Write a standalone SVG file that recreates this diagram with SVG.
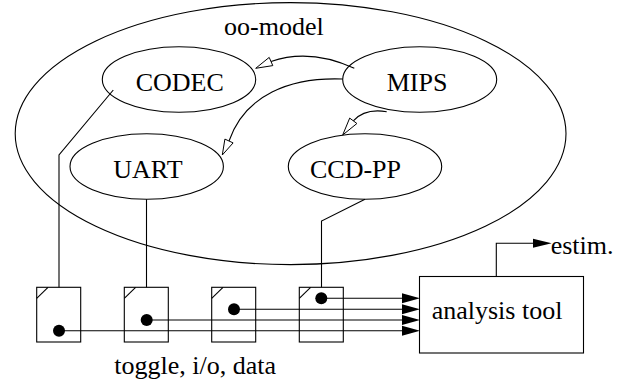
<svg xmlns="http://www.w3.org/2000/svg" width="624" height="381" viewBox="0 0 624 381">
<style>
text{font-family:"Liberation Serif","Times New Roman",serif;font-size:26px;fill:#000}
.o{fill:none;stroke:#000;stroke-width:1.1}
.b{fill:#fff;stroke:#000;stroke-width:1.1}
.l{fill:none;stroke:#000;stroke-width:1.1}
.oh{fill:#fff;stroke:#000;stroke-width:1}
.fh{fill:#000;stroke:none}
</style>
<rect width="624" height="381" fill="#fff"/>
<g id="oo-model">
<ellipse class="o" cx="290.6" cy="133.6" rx="275.4" ry="131"/>
<text x="224" y="35">oo-model</text>
</g>
<g id="codec">
<ellipse class="o" cx="179" cy="79.5" rx="76.7" ry="32.8"/>
<text x="135.7" y="90.7">CODEC</text>
</g>
<g id="mips">
<ellipse class="o" cx="419.7" cy="79.5" rx="77" ry="32.8"/>
<text x="386.7" y="90.7">MIPS</text>
</g>
<g id="uart">
<ellipse class="o" cx="146.7" cy="166.5" rx="76.7" ry="32.8"/>
<text x="113.3" y="178.3">UART</text>
</g>
<g id="ccdpp">
<ellipse class="o" cx="365" cy="166.5" rx="76.7" ry="32.8"/>
<text x="310" y="178.3">CCD-PP</text>
</g>
<g id="box1"><rect class="b" x="36.7" y="287.3" width="44" height="54.7"/><line class="l" x1="36.7" y1="298.3" x2="48" y2="287.3"/></g>
<g id="box2"><rect class="b" x="124.3" y="287.3" width="44" height="54.7"/><line class="l" x1="124.3" y1="298.3" x2="135.6" y2="287.3"/></g>
<g id="box3"><rect class="b" x="211.7" y="287.3" width="44" height="54.7"/><line class="l" x1="211.7" y1="298.3" x2="223" y2="287.3"/></g>
<g id="box4"><rect class="b" x="299.3" y="287.3" width="44" height="54.7"/><line class="l" x1="299.3" y1="298.3" x2="310.6" y2="287.3"/></g>
<g id="analysis">
<rect class="b" x="419.5" y="276.5" width="164" height="76.5"/>
<text x="431.7" y="319">analysis tool</text>
</g>
<g id="estim"><text x="550.7" y="254.3">estim.</text></g>
<g id="label"><text x="114.3" y="374">toggle, i/o, data</text></g>
<g id="connectors">
<path class="l" d="M354.3,68.3 Q310,48 271,61.5"/>
<polygon class="oh" points="255.7,68.3 272.8,65.6 269.2,57.4"/>
<path class="l" d="M342.7,79 C290,77 245,95 229,141"/>
<polygon class="oh" points="222.3,155 233.1,142.9 224.9,139.1"/>
<path class="l" d="M386.7,111.7 Q365,108 353.3,120.8"/>
<polygon class="oh" points="342.7,135 356.9,123.5 349.7,118.1"/>
<polyline class="l" points="113.3,90 59,155 59,287.3"/>
<line class="l" x1="146.5" y1="199.3" x2="146.5" y2="287.3"/>
<polyline class="l" points="365,199.3 321.5,221 321.5,287.3"/>
<circle cx="59" cy="330.7" r="6"/>
<circle cx="146.7" cy="320" r="6"/>
<circle cx="234" cy="309.3" r="6"/>
<circle cx="321.3" cy="298.3" r="6"/>
<line class="l" x1="59" y1="330.7" x2="403" y2="330.7"/>
<line class="l" x1="146.7" y1="320" x2="403" y2="320"/>
<line class="l" x1="234" y1="309.3" x2="403" y2="309.3"/>
<line class="l" x1="321.3" y1="298.3" x2="403" y2="298.3"/>
<polygon class="fh" points="402,325.7 420,330.7 402,335.7"/>
<polygon class="fh" points="402,315 420,320 402,325"/>
<polygon class="fh" points="402,304.3 420,309.3 402,314.3"/>
<polygon class="fh" points="402,293.3 420,298.3 402,303.3"/>
<polyline class="l" points="496.3,276.5 496.3,243.3 534,243.3"/>
<polygon class="fh" points="533,238.8 551.7,243.3 533,247.8"/>
</g>
</svg>
